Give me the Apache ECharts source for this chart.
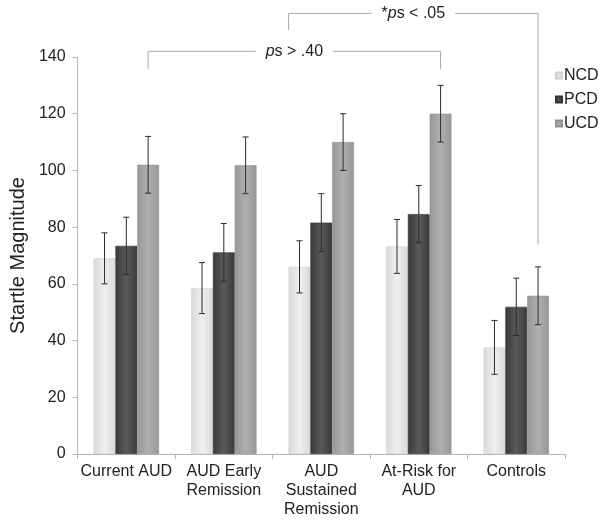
<!DOCTYPE html>
<html>
<head>
<meta charset="utf-8">
<script src="https://cdn.jsdelivr.net/npm/echarts@6/dist/echarts.min.js"></script>
<style>
html,body{margin:0;padding:0;background:#fff;}
#chart{width:604px;height:525px;}
</style>
</head>
<body>
<div id="chart"></div>
<script>
// ---- data ----
const categories = ['Current AUD', 'AUD Early\nRemission', 'AUD\nSustained\nRemission', 'At-Risk for\nAUD', 'Controls'];
const seriesNames = ['NCD', 'PCD', 'UCD'];
const ncdValues = [69, 58.5, 66, 73.2, 37.6];
const pcdValues = [73.4, 71.1, 81.6, 84.6, 51.9];
const ucdValues = [102, 101.8, 110, 120, 55.8];
const ncdErrors = [9, 9, 9.2, 9.5, 9.5];
const pcdErrors = [10.1, 10.2, 10.2, 10.1, 10.1];
const ucdErrors = [10, 10, 10, 10, 10.2];
const yTicks = [0, 20, 40, 60, 80, 100, 120, 140];
// brackets: [fromCategory, fromSeries, toCategory, toSeries, level, leftDrop, rightDrop, label]
const bracketA = [0, 2, 3, 2, 142, 135.7, 135.7, '{i|p}s > .40'];
const bracketB = [2, 0, 4, 2, 155.4, 149.5, 73.9, '*{i|p}s < .05'];

const FONT = '"Liberation Sans", Arial, sans-serif';
const BAR_W = 21.8;
const valuesList = [ncdValues, pcdValues, ucdValues];
const errorsList = [ncdErrors, pcdErrors, ucdErrors];

function grad(a, b) {
  return new echarts.graphic.LinearGradient(0, 0, 1, 0, [
    {offset: 0, color: a}, {offset: 0.5, color: b}, {offset: 1, color: a}
  ]);
}
const barColors = [grad('#d9d9d9', '#efefef'), grad('#3a3a3a', '#5a5a5a'), grad('#979797', '#afafaf')];
const legendColors = ['#e2e2e2', '#4a4a4a', '#a4a4a4'];

const chart = echarts.init(document.getElementById('chart'), null, {renderer: 'canvas'});

function offsetOf(s) { return (s - 1) * BAR_W; }

const barSeries = seriesNames.map((name, s) => ({
  name: name,
  type: 'bar',
  data: valuesList[s],
  barWidth: BAR_W,
  barGap: '0%',
  itemStyle: {color: barColors[s], borderColor: s === 1 ? '#333' : (s === 0 ? '#d0d0d0' : '#939393'), borderWidth: 0.6},
  emphasis: {disabled: true},
  z: 2
}));

const errorSeries = {
  type: 'custom',
  name: 'err',
  data: categories.map((c, i) => [i]),
  z: 5,
  silent: true,
  renderItem: function (params, api) {
    const i = api.value(0);
    const children = [];
    for (let s = 0; s < 3; s++) {
      const v = valuesList[s][i], e = errorsList[s][i];
      const top = api.coord([i, v + e]);
      const bot = api.coord([i, v - e]);
      const x = top[0] + offsetOf(s);
      const st = {stroke: '#2b2b2b', lineWidth: 1};
      children.push({type: 'line', shape: {x1: x, y1: top[1], x2: x, y2: bot[1]}, style: st});
      children.push({type: 'line', shape: {x1: x - 3, y1: top[1], x2: x + 3, y2: top[1]}, style: st});
      children.push({type: 'line', shape: {x1: x - 3, y1: bot[1], x2: x + 3, y2: bot[1]}, style: st});
    }
    return {type: 'group', children: children};
  }
};

const bracketSeries = {
  type: 'custom',
  name: 'brackets',
  data: [[0], [1]],
  clip: false,
  silent: true,
  z: 6,
  renderItem: function (params, api) {
    const b = params.dataIndex === 0 ? bracketA : bracketB;
    const extraLeft = params.dataIndex === 0 ? 0 : -BAR_W / 2;
    const p1 = api.coord([b[0], b[4]]);
    const p2 = api.coord([b[2], b[4]]);
    const x1 = p1[0] + offsetOf(b[1]) + extraLeft;
    const x2 = p2[0] + offsetOf(b[3]);
    const yTop = p1[1];
    const yL = api.coord([b[0], b[5]])[1];
    const yR = api.coord([b[2], b[6]])[1];
    const st = {stroke: '#a8a8a8', lineWidth: 1, fill: null};
    return {type: 'group', children: [
      {type: 'polyline', shape: {points: [[x1, yL], [x1, yTop], [x2, yTop], [x2, yR]]}, style: st},
      {type: 'text', x: (x1 + x2) / 2, y: yTop, style: {
        text: b[7], align: 'center', verticalAlign: 'middle',
        font: '16px ' + FONT, fill: '#222', backgroundColor: '#fff', padding: [2, 10],
        rich: {i: {fontStyle: 'italic', fontSize: 16, fontFamily: FONT, fill: '#222'}}
      }}
    ]};
  }
};

chart.setOption({
  animation: false,
  backgroundColor: '#fff',
  textStyle: {fontFamily: FONT},
  grid: {left: 73, right: 39, top: 57, bottom: 71, containLabel: false},
  legend: {
    orient: 'vertical', left: 550, top: 62,
    data: seriesNames.map((n, s) => ({name: n, itemStyle: {color: legendColors[s]}})),
    icon: 'rect', itemWidth: 6, itemHeight: 6, itemGap: 7,
    textStyle: {fontSize: 16, color: '#222', fontFamily: FONT, lineHeight: 17, padding: [0, 0, 0, -3]},
    selectedMode: false
  },
  xAxis: {
    type: 'category', data: categories,
    axisLine: {lineStyle: {color: '#b5b5b5'}},
    axisTick: {show: true, alignWithLabel: false, length: 5, lineStyle: {color: '#b5b5b5'}},
    axisLabel: {fontSize: 16, color: '#222', lineHeight: 19, margin: 8, interval: 0, fontFamily: FONT}
  },
  yAxis: {
    type: 'value', min: yTicks[0], max: yTicks[yTicks.length - 1], interval: 20,
    name: 'Startle Magnitude', nameLocation: 'middle', nameGap: 49, nameRotate: 90,
    nameTextStyle: {fontSize: 20, color: '#222', fontFamily: FONT},
    axisLine: {show: true, lineStyle: {color: '#b5b5b5'}},
    axisTick: {show: true, length: 5, lineStyle: {color: '#b5b5b5'}},
    splitLine: {show: false},
    axisLabel: {fontSize: 16, color: '#222', margin: 12, fontFamily: FONT}
  },
  series: barSeries.concat([errorSeries, bracketSeries])
});
</script>
</body>
</html>
